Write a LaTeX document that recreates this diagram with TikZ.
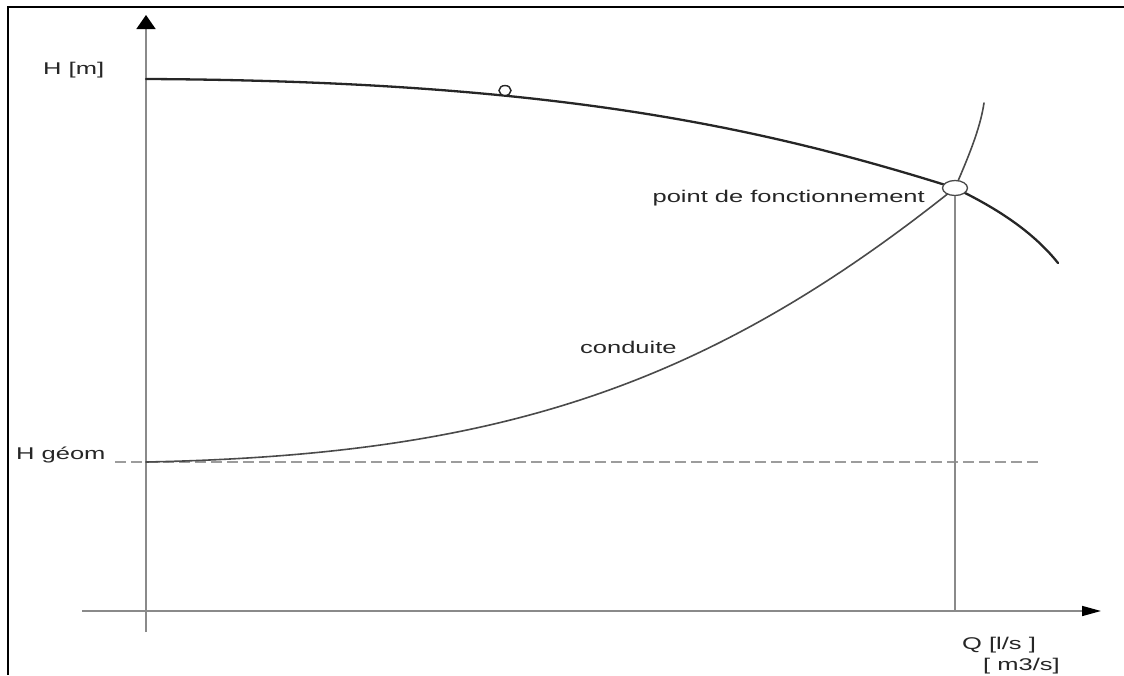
\documentclass[tikz,border=0pt]{standalone}
\usepackage{fontspec}
\setmainfont{Liberation Sans}
\usetikzlibrary{arrows.meta,shapes.geometric}
\newcommand{\lbl}[1]{\scalebox{1.5}[1]{\fontsize{17}{19}\selectfont #1}}
\definecolor{axisgray}{HTML}{8A8A8A}
\definecolor{curvedark}{HTML}{262626}
\definecolor{pipegray}{HTML}{4A4A4A}
\definecolor{txt}{HTML}{262626}
\tikzset{
  axis/.style={draw=axisgray, line width=1.6pt},
  pumpcurve/.style={draw=curvedark, line width=2.3pt, line cap=round},
  pipecurve/.style={draw=pipegray, line width=1.6pt, line cap=round},
  hline/.style={draw=axisgray!85, line width=1.5pt, dash pattern=on 11pt off 5pt},
  label/.style={text=txt, inner sep=0pt},
}
\begin{document}
\begin{tikzpicture}[x=1pt,y=-1pt]
\useasboundingbox (0,0) rectangle (1124,675);
% frame
\draw[black, line width=1.6pt] (1124,7) -- (8,7) -- (8,675);

% axes
\coordinate (yb) at (146,632);
\coordinate (yt) at (146,15);
\coordinate (xl) at (82,611);
\coordinate (xr) at (1101,611);
\draw[axis, -{Triangle[length=14pt,width=19pt,color=black]}] (yb) -- (yt);
\draw[axis, -{Triangle[length=19pt,width=10pt,color=black]}] (xl) -- (xr);

% static head
\coordinate (hs) at (115,462);
\coordinate (he) at (1040,462);
\draw[hline] (hs) -- (he);

% operating point
\coordinate (opc) at (955,188);

% pipe characteristic
\coordinate (p0) at (146,462);
\coordinate (p1) at (984,103);
\draw[pipecurve] (p0) .. controls (496,455) and (705,388) .. (opc)
  .. controls (967,160) and (980,130) .. (p1);

% pump characteristic
\coordinate (q0) at (146,79);
\coordinate (q1) at (1058,263);
\draw[pumpcurve] (q0) .. controls (546,81) and (755,125) .. (opc)
  .. controls (990,205) and (1030,228) .. (q1);

% small mark on the pump curve
\node[draw=curvedark, line width=1.4pt, ellipse, minimum width=12pt,
      minimum height=10pt, inner sep=0pt, fill=white] (mark) at (505,90.5) {};

% operating point marker and its projection onto the Q axis
\node[draw=pipegray, line width=1.3pt, ellipse, minimum width=25pt,
      minimum height=15pt, inner sep=0pt, fill=white] (op) at (opc) {};
\coordinate (opfoot) at (op.south |- xl);
\draw[axis] (op.south) -- (opfoot);

% labels
\node[label, anchor=west] (hm) at (43,70) {\lbl{H [m]}};
\node[label, anchor=west] (hg) at (16,455) {\lbl{H géom}};
\node[label, anchor=east] (pf) at (925,198) {\lbl{point de fonctionnement}};
\node[label, anchor=west] (cd) at (580,347) {\lbl{conduite}};
\node[label, anchor=west] (q1l) at (962,645) {\lbl{Q [l/s ]}};
\node[label, anchor=west] (q2l) at (983,666) {\lbl{[ m3/s]}};
\end{tikzpicture}
\end{document}
